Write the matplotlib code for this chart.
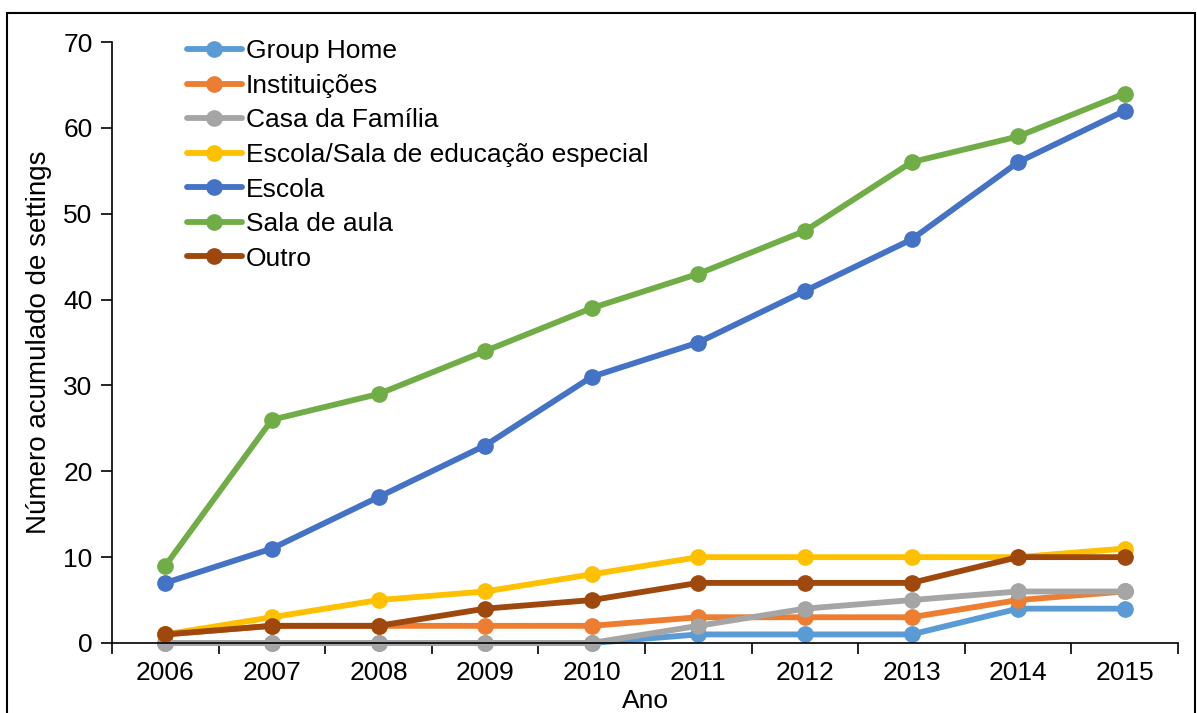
import matplotlib.pyplot as plt
from matplotlib.patches import Rectangle

plt.rcParams['font.family'] = ['Liberation Sans', 'DejaVu Sans']

anos = ['2006', '2007', '2008', '2009', '2010', '2011', '2012', '2013', '2014', '2015']
group_home = [0, 0, 0, 0, 0, 1, 1, 1, 4, 4]
instituicoes = [1, 2, 2, 2, 2, 3, 3, 3, 5, 6]
casa_familia = [0, 0, 0, 0, 0, 2, 4, 5, 6, 6]
escola_sala = [1, 3, 5, 6, 8, 10, 10, 10, 10, 11]
escola = [7, 11, 17, 23, 31, 35, 41, 47, 56, 62]
sala_aula = [9, 26, 29, 34, 39, 43, 48, 56, 59, 64]
outro = [1, 2, 2, 4, 5, 7, 7, 7, 10, 10]

series = [
    ('Group Home', group_home, '#5B9BD5'),
    ('Instituições', instituicoes, '#ED7D31'),
    ('Casa da Família', casa_familia, '#A5A5A5'),
    ('Escola/Sala de educação especial', escola_sala, '#FFC000'),
    ('Escola', escola, '#4472C4'),
    ('Sala de aula', sala_aula, '#70AD47'),
    ('Outro', outro, '#9E480E'),
]

fig = plt.figure(figsize=(11.97, 7.13), dpi=100)
ax = fig.add_axes([112/1197, 1 - 643/713, (1178-112)/1197, (643-42)/713])

x = range(len(anos))
for nome, vals, cor in series:
    ax.plot(x, vals, color=cor, lw=4.2, marker='o', ms=11, label=nome,
            solid_capstyle='round', clip_on=False)

ax.set_xlim(-0.5, len(anos) - 0.5)
ax.set_ylim(0, 70)
ax.set_yticks(range(0, 71, 10))
ax.set_xticks(x)
ax.set_xticklabels(anos)
ax.set_xticks([i - 0.5 for i in range(len(anos) + 1)], minor=True)
ax.tick_params(axis='x', which='major', length=0, pad=13, labelsize=19)
ax.tick_params(axis='x', which='minor', length=8, width=1.2, direction='out')
ax.tick_params(axis='y', length=8, width=1.2, direction='out', labelsize=19, pad=6)
for s in ['top', 'right']:
    ax.spines[s].set_visible(False)
for s in ['left', 'bottom']:
    ax.spines[s].set_linewidth(1.2)

ax.set_xlabel('Ano', fontsize=19, labelpad=3)
ax.set_ylabel('Número acumulado de settings', fontsize=20, labelpad=8)

leg = ax.legend(loc='upper left', bbox_to_anchor=(0.060, 1.022), frameon=False,
                fontsize=19, handlelength=2.1, handletextpad=0.15, labelspacing=0.4,
                borderaxespad=0)

fig.patches.append(Rectangle((7/1197, -0.01), (1195-7)/1197, 1 - 13/713 + 0.01,
                             transform=fig.transFigure, fill=False, ec='black', lw=1.5))

fig.savefig('out.png', dpi=100)
